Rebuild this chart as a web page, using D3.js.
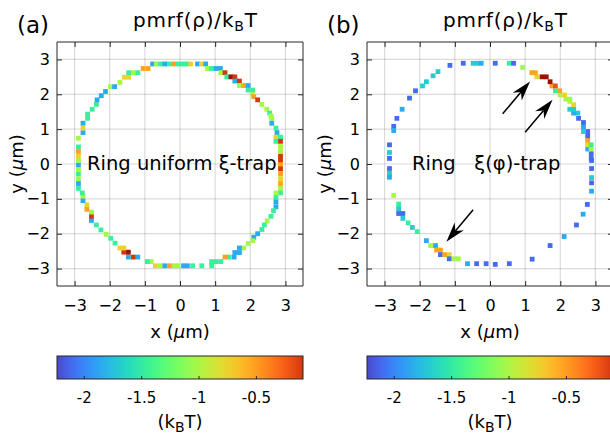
<!DOCTYPE html>
<html><head><meta charset="utf-8">
<script src="https://cdn.jsdelivr.net/npm/d3@7"></script>
<style>
body{margin:0;background:#fff;}
svg{display:block;}
text{font-family:"DejaVu Sans",sans-serif;fill:#000;}
</style>
</head><body><svg id="chart" width="610" height="435"></svg>
<script>
// ---------- data ----------
const axisTicks = [-3, -2, -1, 0, 1, 2, 3];
const axisDomain = [-3.5, 3.5];
const cbarTicks = [-2, -1.5, -1, -0.5];
const cbarTickLabels = ["-2", "-1.5", "-1", "-0.5"];
const cbarDomain = [-2.233, -0.09];
const panelLetters = ["(a)", "(b)"];
const panelNotes = ["Ring uniform ξ-trap", "Ring   ξ(φ)-trap"];

// [x (µm), y (µm), pmrf/kBT]
const ringA = [
 [-0.78,2.87,-1.85],[-0.67,2.87,-1.02],[-0.55,2.87,-1.46],[-0.43,2.87,-1.85],[-0.30,2.87,-1.46],[-0.17,2.87,-0.52],
 [-0.05,2.87,-1.46],[0.07,2.87,-1.46],[0.19,2.87,-1.46],[0.30,2.87,-0.75],
 [0.50,2.87,-1.85],[0.61,2.87,-0.75],[0.73,2.87,-1.85],
 [0.78,2.74,-1.02],[0.90,2.74,-1.46],[1.03,2.74,-1.85],[1.15,2.74,-1.85],
 [1.16,2.62,-1.02],[1.28,2.62,-0.09],
 [1.33,2.50,-1.46],[1.45,2.50,0.15],[1.56,2.50,-0.09],
 [1.56,2.38,-1.85],[1.69,2.38,-0.09],
 [1.69,2.25,-1.02],[1.81,2.25,-0.52],[1.94,2.25,-1.85],
 [1.94,2.12,-1.46],[2.07,2.12,-1.46],
 [2.07,2.00,-1.02],[2.10,1.93,-0.52],[2.21,1.84,-0.09],[2.33,1.71,-1.02],
 [2.47,1.57,-1.02],[2.55,1.46,-1.46],[2.59,1.38,-1.02],[2.61,1.31,-1.02],[2.61,1.17,-1.85],
 [2.73,1.03,-1.46],[2.76,0.90,-1.85],[2.73,0.77,-0.75],[2.86,0.77,-1.46],[2.73,0.65,-1.46],[2.86,0.65,-0.09],
 [2.86,0.50,-1.02],[2.86,0.36,-1.02],[2.86,0.22,-0.09],
 [2.86,0.10,-0.09],[2.86,-0.02,-0.52],[2.86,-0.14,-0.09],[2.86,-0.28,-0.52],[2.86,-0.42,-0.75],[2.86,-0.56,-0.52],[2.86,-0.70,-1.02],
 [2.86,-0.83,-1.46],[2.73,-0.83,-1.02],[2.73,-0.96,-1.46],[2.73,-1.09,-1.85],[2.73,-1.23,-1.85],
 [2.66,-1.34,-1.46],[2.59,-1.50,-1.46],[2.48,-1.63,-1.02],[2.40,-1.75,-1.46],[2.33,-1.88,-1.46],
 [2.21,-2.00,-1.85],[2.10,-2.10,-1.85],[2.07,-2.20,-1.02],[1.94,-2.28,-1.02],[1.81,-2.41,-1.02],
 [1.69,-2.41,-1.85],[1.69,-2.54,-1.85],[1.56,-2.54,-1.85],[1.54,-2.67,-1.85],[1.40,-2.67,-1.46],[1.28,-2.67,-0.52],
 [1.16,-2.80,-1.46],[1.03,-2.80,-1.46],[0.90,-2.80,-1.46],[0.90,-2.92,-1.46],[0.62,-2.92,-1.46],
 [0.36,-2.92,-1.46],[0.21,-2.92,-1.85],[0.10,-2.92,-1.85],[-0.06,-2.92,-1.02],[-0.17,-2.92,-1.02],
 [-0.30,-2.92,-0.52],[-0.44,-2.92,-1.85],[-0.57,-2.92,-1.02],[-0.70,-2.92,-0.75],
 [-0.82,-2.80,-1.02],[-0.93,-2.80,-1.46],
 [-1.20,-2.67,-1.85],[-1.33,-2.67,-0.09],[-1.47,-2.67,-1.85],
 [-1.47,-2.53,0.15],[-1.60,-2.53,-0.09],[-1.60,-2.41,-0.75],[-1.71,-2.41,-0.75],
 [-1.85,-2.27,-1.46],[-1.97,-2.13,-1.46],[-2.10,-2.02,-1.02],[-2.25,-1.89,-1.46],[-2.38,-1.75,-1.46],
 [-2.52,-1.62,-1.85],[-2.52,-1.50,-0.09],[-2.52,-1.38,-1.02],[-2.65,-1.30,-0.52],[-2.65,-1.17,-0.75],
 [-2.76,-1.05,-1.85],[-2.76,-0.92,-1.02],[-2.78,-0.83,-1.46],
 [-2.89,-0.70,-1.46],[-2.89,-0.56,-1.85],[-2.89,-0.42,-1.02],[-2.89,-0.28,-1.46],[-2.89,-0.15,-1.02],
 [-2.89,-0.02,-1.85],[-2.89,0.10,-1.02],[-2.89,0.22,-0.75],[-2.89,0.36,-0.52],[-2.89,0.49,-1.46],[-2.89,0.74,-1.02],
 [-2.76,0.90,-1.85],[-2.76,1.03,-0.75],[-2.76,1.17,-1.85],[-2.63,1.31,-1.46],[-2.63,1.43,-1.46],
 [-2.50,1.57,-1.46],[-2.38,1.71,-1.46],[-2.36,1.84,-1.85],[-2.24,1.96,-1.85],[-2.12,2.08,-1.85],
 [-1.98,2.22,-1.02],[-1.86,2.22,-1.85],[-1.71,2.34,-1.02],[-1.58,2.49,-0.75],[-1.46,2.49,-0.75],
 [-1.46,2.62,-1.46],[-1.33,2.62,-1.02],[-1.20,2.62,-1.46],[-1.05,2.74,-0.52],[-0.91,2.74,-0.52]
];

const ringB = [
 [-0.76,2.89,-2.10],[-0.48,2.89,-1.68],[-0.36,2.89,-1.68],[-0.25,2.89,-1.85],[0.15,2.89,-2.10],
 [0.55,2.89,-1.46],[0.67,2.89,-2.10],[-1.14,2.83,-2.10],[0.93,2.77,-1.02],
 [-1.48,2.65,-1.68],[-1.62,2.53,-1.68],[-1.81,2.36,-1.68],[-1.92,2.24,-1.68],[-2.12,2.10,-2.10],
 [-2.29,1.89,-2.10],[-2.50,1.57,-1.85],[-2.65,1.31,-2.10],[-2.74,1.08,-2.10],[-2.74,0.96,-1.85],
 [-2.86,0.55,-2.10],[-2.86,0.33,-1.68],[-2.86,0.16,-2.10],[-2.86,-0.13,-2.10],[-2.86,-0.27,-1.68],[-2.86,-0.38,-1.85],
 [-2.74,-0.90,-1.02],[-2.60,-1.15,-1.46],[-2.60,-1.28,-1.68],[-2.60,-1.42,-2.10],[-2.48,-1.42,-2.10],
 [-2.48,-1.56,-1.68],[-2.33,-1.69,-1.46],[-2.21,-1.82,-1.68],[-2.07,-1.94,-1.46],
 [-1.81,-2.20,-1.85],[-1.69,-2.34,-1.02],[-1.55,-2.34,-1.85],[-1.52,-2.47,-0.52],[-1.41,-2.47,-0.52],
 [-1.41,-2.60,-2.10],[-1.29,-2.60,-0.52],[-1.16,-2.60,-0.75],[-1.16,-2.72,-2.10],[-1.02,-2.72,-1.02],[-0.90,-2.72,-1.02],
 [-0.64,-2.86,-1.85],[-0.38,-2.86,-2.10],[-0.11,-2.86,-2.10],[0.15,-2.88,-2.10],[0.55,-2.86,-2.10],
 [1.20,-2.73,-2.10],[1.71,-2.34,-2.10],[2.11,-2.08,-1.85],[2.46,-1.75,-2.10],[2.65,-1.44,-1.85],
 [2.77,-1.16,-2.10],[2.89,-0.78,-1.85],[2.89,-0.54,-2.10],[2.89,-0.39,-1.68],[2.89,-0.13,-2.10],[2.89,0.10,-2.10],
 [2.88,0.16,-2.10],[2.88,0.30,-2.10],[2.78,0.43,-1.85],[2.88,0.43,-1.02],[2.78,0.55,-0.75],[2.88,0.55,-1.46],
 [2.78,0.68,-0.52],[2.78,0.81,-2.10],[2.78,0.93,-2.10],[2.66,0.93,-1.68],[2.66,1.06,-1.85],[2.66,1.19,-2.10],
 [2.52,1.31,-2.10],[2.50,1.46,-1.68],[2.38,1.46,-1.85],[2.38,1.57,-1.68],[2.27,1.57,-1.68],[2.38,1.70,-0.75],
 [2.27,1.80,-1.02],[2.16,1.86,-1.02],[2.27,1.86,-1.02],[2.00,1.98,-1.02],[2.12,1.98,-0.75],
 [1.86,2.10,-1.46],[1.98,2.10,-0.52],[1.76,2.24,-0.52],[1.86,2.24,-0.20],
 [1.71,2.36,0.15],[1.48,2.50,0.15],[1.60,2.50,0.15],[1.33,2.50,-0.75],[1.19,2.62,-0.52],[1.29,2.62,-0.52]
];

// [x0, y0, xTip, yTip] in µm, panel (b)
const arrowsB = [[0.36,1.44,1.14,2.37],[1.00,0.91,1.78,1.84],[-0.48,-1.31,-1.24,-2.23]];

// ---------- drawing ----------
const svg = d3.select("#chart");
const tScale = d3.scaleLinear().domain(cbarDomain).range([0.08, 0.86]);
const color = v => d3.interpolateTurbo(Math.max(0, Math.min(0.97, tScale(v))));

const defs = svg.append("defs");
const grad = defs.append("linearGradient").attr("id","cbgrad").attr("x1","0%").attr("x2","100%");
d3.range(0, 1.0001, 0.05).forEach(f => {
  grad.append("stop").attr("offset", (f*100)+"%")
    .attr("stop-color", color(cbarDomain[0] + f*(cbarDomain[1]-cbarDomain[0])));
});

const panels = [
  {left:57, data:ringA, letterX:17, titleX:133, noteX:87, ylabX:23, arrows:[]},
  {left:367, data:ringB, letterX:327, titleX:443, noteX:412, ylabX:331, arrows:arrowsB}
];
const axTop = 42, W = 246, H = 244;
const cbTop = 356, cbH = 23;
const sq = 4.8;

panels.forEach((p, i) => {
  const g = svg.append("g");
  const x = d3.scaleLinear().domain(axisDomain).range([p.left, p.left + W]);
  const y = d3.scaleLinear().domain(axisDomain).range([axTop + H, axTop]);

  g.append("rect").attr("x", p.left).attr("y", axTop).attr("width", W).attr("height", H).attr("fill", "#fff");
  // grid
  g.append("g").selectAll("line").data(axisTicks).join("line")
    .attr("x1", d => x(d)).attr("x2", d => x(d)).attr("y1", axTop).attr("y2", axTop + H)
    .attr("stroke", "#000").attr("stroke-opacity", 0.14).attr("stroke-width", 1.2);
  g.append("g").selectAll("line").data(axisTicks).join("line")
    .attr("y1", d => y(d)).attr("y2", d => y(d)).attr("x1", p.left).attr("x2", p.left + W)
    .attr("stroke", "#000").attr("stroke-opacity", 0.14).attr("stroke-width", 1.2);

  // squares
  g.append("g").selectAll("rect").data(p.data).join("rect")
    .attr("x", d => x(d[0]) - sq/2).attr("y", d => y(d[1]) - sq/2)
    .attr("width", sq).attr("height", sq)
    .attr("fill", d => color(d[2]));

  // axes (ticks inside, mirrored)
  const tl = 5;
  const axB = d3.axisBottom(x).tickValues(axisTicks).tickSize(-tl).tickPadding(14).tickFormat(d3.format("d"));
  const axT = d3.axisTop(x).tickValues(axisTicks).tickSize(-tl).tickFormat("");
  const axL = d3.axisLeft(y).tickValues(axisTicks).tickSize(-tl).tickPadding(7).tickFormat(d3.format("d"));
  const axR = d3.axisRight(y).tickValues(axisTicks).tickSize(-tl).tickFormat("");
  const styleAx = s => {
    s.select(".domain").attr("stroke", "#262626").attr("stroke-width", 1);
    s.selectAll(".tick line").attr("stroke", "#262626");
    s.selectAll(".tick text").attr("font-size", 16).attr("font-family", "DejaVu Sans").attr("fill", "#000");
  };
  g.append("g").attr("transform", `translate(0,${axTop+H})`).call(axB).call(styleAx)
    .call(s => s.selectAll(".domain").attr("d", `M${p.left},0H${p.left+W}`));
  g.append("g").attr("transform", `translate(0,${axTop})`).call(axT).call(styleAx)
    .call(s => s.selectAll(".domain").attr("d", `M${p.left},0H${p.left+W}`));
  g.append("g").attr("transform", `translate(${p.left},0)`).call(axL).call(styleAx)
    .call(s => s.selectAll(".domain").attr("d", `M0,${axTop}V${axTop+H}`));
  g.append("g").attr("transform", `translate(${p.left+W},0)`).call(axR).call(styleAx)
    .call(s => s.selectAll(".domain").attr("d", `M0,${axTop}V${axTop+H}`));

  // arrows
  p.arrows.forEach(a => {
    const x0 = x(a[0]), y0 = y(a[1]), x1 = x(a[2]), y1 = y(a[3]);
    const ang = Math.atan2(y1 - y0, x1 - x0);
    const L = 20, hw = 6, notch = 14;
    const ux = Math.cos(ang), uy = Math.sin(ang), nx = -uy, ny = ux;
    g.append("line").attr("x1", x0).attr("y1", y0)
      .attr("x2", x1 - ux*notch).attr("y2", y1 - uy*notch)
      .attr("stroke", "#000").attr("stroke-width", 1.5);
    const pts = [[x1, y1], [x1 - ux*L + nx*hw, y1 - uy*L + ny*hw],
                 [x1 - ux*notch, y1 - uy*notch], [x1 - ux*L - nx*hw, y1 - uy*L - ny*hw]];
    g.append("path").attr("d", "M" + pts.map(q => q.join(",")).join("L") + "Z").attr("fill", "#000");
  });

  // texts
  g.append("text").attr("x", p.letterX).attr("y", 33).attr("font-size", 23).text(panelLetters[i]);
  const t = g.append("text").attr("x", p.titleX).attr("y", 27).attr("font-size", 20).attr("letter-spacing", 0.8);
  t.append("tspan").text("pmrf(ρ)/k");
  t.append("tspan").attr("font-size", 14).attr("dy", 4).text("B");
  t.append("tspan").attr("dy", -4).text("T");
  g.append("text").attr("x", p.noteX).attr("y", 170).attr("font-size", 19.5)
    .style("white-space", "pre").text(panelNotes[i]);

  const yl = g.append("text").attr("transform", `translate(${p.ylabX},${axTop+H/2}) rotate(-90)`)
    .attr("text-anchor", "middle").attr("font-size", 18);
  yl.append("tspan").text("y (");
  yl.append("tspan").attr("font-style", "italic").text("μ");
  yl.append("tspan").text("m)");
  const xl = g.append("text").attr("x", p.left + W/2).attr("y", 338)
    .attr("text-anchor", "middle").attr("font-size", 18);
  xl.append("tspan").text("x (");
  xl.append("tspan").attr("font-style", "italic").text("μ");
  xl.append("tspan").text("m)");

  // colorbar
  const cx = d3.scaleLinear().domain(cbarDomain).range([p.left, p.left + W]);
  g.append("rect").attr("x", p.left).attr("y", cbTop).attr("width", W).attr("height", cbH)
    .attr("fill", "url(#cbgrad)").attr("stroke", "#262626").attr("stroke-width", 1);
  const axC = d3.axisBottom(cx).tickValues(cbarTicks).tickSize(-3).tickPadding(13)
    .tickFormat((d, k) => cbarTickLabels[k]);
  g.append("g").attr("transform", `translate(0,${cbTop+cbH})`).call(axC)
    .call(s => s.select(".domain").remove())
    .call(s => s.selectAll(".tick line").attr("stroke", "#262626"))
    .call(s => s.selectAll(".tick text").attr("font-size", 15).attr("font-family", "DejaVu Sans").attr("fill", "#000"));
  const cl = g.append("text").attr("x", p.left + W/2).attr("y", 428)
    .attr("text-anchor", "middle").attr("font-size", 18);
  cl.append("tspan").text("(k");
  cl.append("tspan").attr("font-size", 14).attr("dy", 4).text("B");
  cl.append("tspan").attr("dy", -4).text("T)");
});
</script>
</body></html>
